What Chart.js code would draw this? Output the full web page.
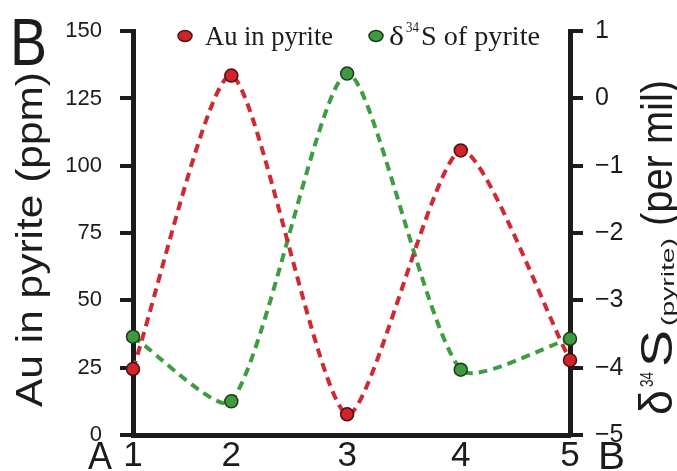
<!DOCTYPE html>
<html>
<head>
<meta charset="utf-8">
<script src="https://cdn.jsdelivr.net/npm/chart.js@4"></script>
<style>
  html, body { margin: 0; padding: 0; background: #fff; }
</style>
</head>
<body>
<canvas id="chart" width="677" height="471"></canvas>
<script>
// profile stations A -> B
const stations = ["1", "2", "3", "4", "5"];
const stationPos = [1, 1.9, 2.96, 4, 5];

// Au in pyrite (ppm)
const auPyrite = [24.5, 133.5, 7.7, 105.7, 27.8];
// d34S of pyrite (per mil)
const d34sPyrite = [-3.54, -4.5, 0.37, -4.03, -3.57];

const auTicks = [0, 25, 50, 75, 100, 125, 150];
const d34sTicks = [-5, -4, -3, -2, -1, 0, 1];

const INK = "#1d1b1b";
const RED = "#d0232a";
const GREEN = "#3e9a3e";
const SANS = "'Liberation Sans', Arial, sans-serif";
const SERIF = "'Liberation Serif', 'Times New Roman', serif";

// text squeezed/stretched to fit between two positions
function fitText(ctx, text, x0, x1, y, font) {
    ctx.font = font;
    const w = ctx.measureText(text).width;
    ctx.save();
    ctx.translate(x0, y);
    ctx.scale((x1 - x0) / w, 1);
    ctx.fillText(text, 0, 0);
    ctx.restore();
}

function dot(ctx, x, y, fill, stroke) {
    ctx.beginPath();
    ctx.ellipse(x, y, 7, 5.5, 0, 0, Math.PI * 2);
    ctx.fillStyle = fill;
    ctx.fill();
    ctx.lineWidth = 1.5;
    ctx.strokeStyle = stroke;
    ctx.stroke();
}

const decor = {
    id: "decor",
    afterDraw(chart) {
        const ctx = chart.ctx;
        ctx.save();
        ctx.fillStyle = INK;
        ctx.textAlign = "left";
        ctx.textBaseline = "alphabetic";

        // panel letter and profile ends
        fitText(ctx, "B", 10, 47, 65, "66px " + SANS);
        fitText(ctx, "A", 88, 112, 469, "38px " + SANS);
        fitText(ctx, "B", 598, 625, 469, "38px " + SANS);

        // legend
        dot(ctx, 185, 36, RED, "#4a1010");
        ctx.fillStyle = INK;
        fitText(ctx, "Au in pyrite", 205, 333, 45, "27px " + SERIF);
        dot(ctx, 376, 36, GREEN, "#1c3a1c");
        ctx.fillStyle = INK;
        fitText(ctx, "δ", 389, 404, 45, "27px " + SERIF);
        fitText(ctx, "34", 406, 419, 32, "14px " + SERIF);
        fitText(ctx, "S of pyrite", 421, 540, 45, "27px " + SERIF);

        // axis titles (reading bottom to top)
        ctx.rotate(-Math.PI / 2);
        fitText(ctx, "Au in pyrite (ppm)", -407, -72, 42, "36px " + SANS);
        fitText(ctx, "δ", -415, -390, 672, "46px " + SANS);
        fitText(ctx, "34", -387, -372, 653, "19px " + SANS);
        fitText(ctx, "S", -367, -330, 672, "44px " + SANS);
        fitText(ctx, "(pyrite)", -326, -238, 674, "18px " + SANS);
        fitText(ctx, "(per mil)", -226, -80, 672, "44px " + SANS);
        ctx.restore();
    }
};

const axisGrid = {
    drawOnChartArea: false,
    tickLength: 13,
    lineWidth: 4,
    color: INK
};

const lineStyle = {
    borderWidth: 4,
    borderDash: [9, 6],
    tension: 0.22,
    pointRadius: 6.5,
    pointBorderWidth: 1.5,
    clip: false
};

new Chart(document.getElementById("chart"), {
    type: "line",
    data: {
        datasets: [
            Object.assign({
                label: "Au in pyrite",
                data: stationPos.map((x, i) => ({ x: x, y: auPyrite[i] })),
                yAxisID: "y",
                borderColor: "#cf2a30",
                pointBackgroundColor: RED,
                pointBorderColor: "#4a1010"
            }, lineStyle),
            Object.assign({
                label: "δ34S of pyrite",
                data: stationPos.map((x, i) => ({ x: x, y: d34sPyrite[i] })),
                yAxisID: "y1",
                borderColor: "#3f9c40",
                pointBackgroundColor: GREEN,
                pointBorderColor: "#1c3a1c"
            }, lineStyle)
        ]
    },
    options: {
        responsive: false,
        animation: false,
        devicePixelRatio: 1,
        layout: { padding: { top: 25, left: 0, right: 0, bottom: 0 } },
        plugins: {
            legend: { display: false },
            tooltip: { enabled: false }
        },
        scales: {
            x: {
                type: "linear",
                min: 1,
                max: 5,
                afterBuildTicks: s => { s.ticks = stationPos.map(v => ({ value: v })); },
                afterFit: s => { s.height = 36; },
                ticks: {
                    autoSkip: false,
                    maxRotation: 0,
                    padding: 0,
                    color: INK,
                    font: { family: SANS, size: 35 },
                    callback: (v, i) => stations[i]
                },
                grid: { display: false, drawTicks: false },
                border: { color: INK, width: 5 }
            },
            y: {
                position: "left",
                min: 0,
                max: 150,
                afterBuildTicks: s => { s.ticks = auTicks.map(v => ({ value: v })); },
                afterFit: s => { s.width = 133; },
                ticks: {
                    padding: 18,
                    color: INK,
                    font: { family: SANS, size: 22 }
                },
                grid: axisGrid,
                border: { color: INK, width: 5 }
            },
            y1: {
                position: "right",
                min: -5,
                max: 1,
                afterBuildTicks: s => { s.ticks = d34sTicks.map(v => ({ value: v })); },
                afterFit: s => { s.width = 107; },
                ticks: {
                    padding: 12,
                    color: INK,
                    font: { family: SANS, size: 25 },
                    callback: v => String(v).replace("-", "\u2212")
                },
                grid: axisGrid,
                border: { color: INK, width: 5 }
            }
        }
    },
    plugins: [decor]
});
</script>
</body>
</html>
